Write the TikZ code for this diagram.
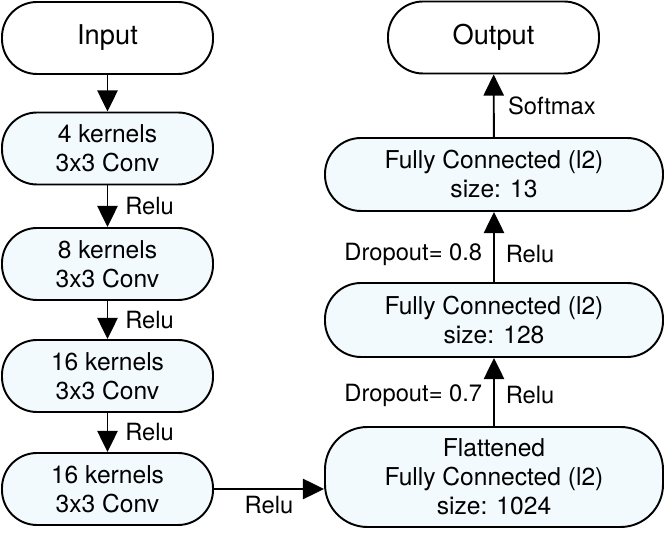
\documentclass[tikz,border=0pt]{standalone}
\usepackage{fontspec}
\setmainfont{TeX Gyre Heros}
\usetikzlibrary{arrows.meta,positioning}
\definecolor{LayerFill}{RGB}{243,250,253}

\begin{document}
\begin{tikzpicture}[
  io/.style={draw,line width=1.1pt,fill=white,rounded corners=0.7cm,
             minimum width=4.22cm,minimum height=1.44cm,align=center,
             font=\fontsize{15.5}{18}\selectfont},
  layer/.style={draw,line width=1.1pt,fill=LayerFill,rounded corners=0.7cm,
                minimum width=4.22cm,minimum height=1.44cm,align=center,
                font=\fontsize{14}{16.5}\selectfont},
  wide/.style={layer,minimum width=6.76cm},
  lbl/.style={font=\fontsize{13.5}{15}\selectfont},
  >={Triangle[length=12pt,width=11.5pt]},
  line width=1.1pt
]
\useasboundingbox (0,0) rectangle (13.28,10.66);
% left column
\node[io] (input) at (2.15,9.90) {Input};
\node[layer] (conv1) at (2.15,7.69) {4 kernels\\3x3 Conv};
\node[layer] (conv2) at (2.15,5.38) {8 kernels\\3x3 Conv};
\node[layer] (conv3) at (2.15,3.14) {16 kernels\\3x3 Conv};
\node[layer] (conv4) at (2.15,0.88) {16 kernels\\3x3 Conv};
% right column
\node[wide,minimum height=2.0cm,rounded corners=0.85cm] (flat) at (9.88,1.12) {Flattened\\Fully Connected (l2)\\size: 1024};
\node[wide,minimum height=1.48cm,rounded corners=0.72cm] (fc128) at (9.88,4.26) {Fully Connected (l2)\\size: 128};
\node[wide,minimum height=1.46cm,rounded corners=0.72cm] (fc13) at (9.88,7.17) {Fully Connected (l2)\\size: 13};
\node[io] (output) at (9.87,9.91) {Output};
\draw[->] (input) -- (conv1);
\draw[->] (conv1) -- (conv2) node[midway,right,lbl,xshift=0.22cm]{Relu};
\draw[->] (conv2) -- (conv3) node[midway,right,lbl,xshift=0.22cm]{Relu};
\draw[->] (conv3) -- (conv4) node[midway,right,lbl,xshift=0.22cm]{Relu};
\draw[->] (conv4.east) -- (conv4.east -| flat.west) node[midway,below,lbl]{Relu};
\draw[->] (flat) -- (fc128) node[pos=0.45,right,lbl,xshift=0.1cm]{Relu}
  node[pos=0.45,left,lbl,xshift=-0.1cm]{Dropout= 0.7};
\draw[->] (fc128) -- (fc13) node[pos=0.4,right,lbl,xshift=0.1cm]{Relu}
  node[pos=0.4,left,lbl,xshift=-0.1cm]{Dropout= 0.8};
\draw[->] (fc13) -- (output) node[midway,right,lbl,xshift=0.15cm]{Softmax};
\end{tikzpicture}
\end{document}
